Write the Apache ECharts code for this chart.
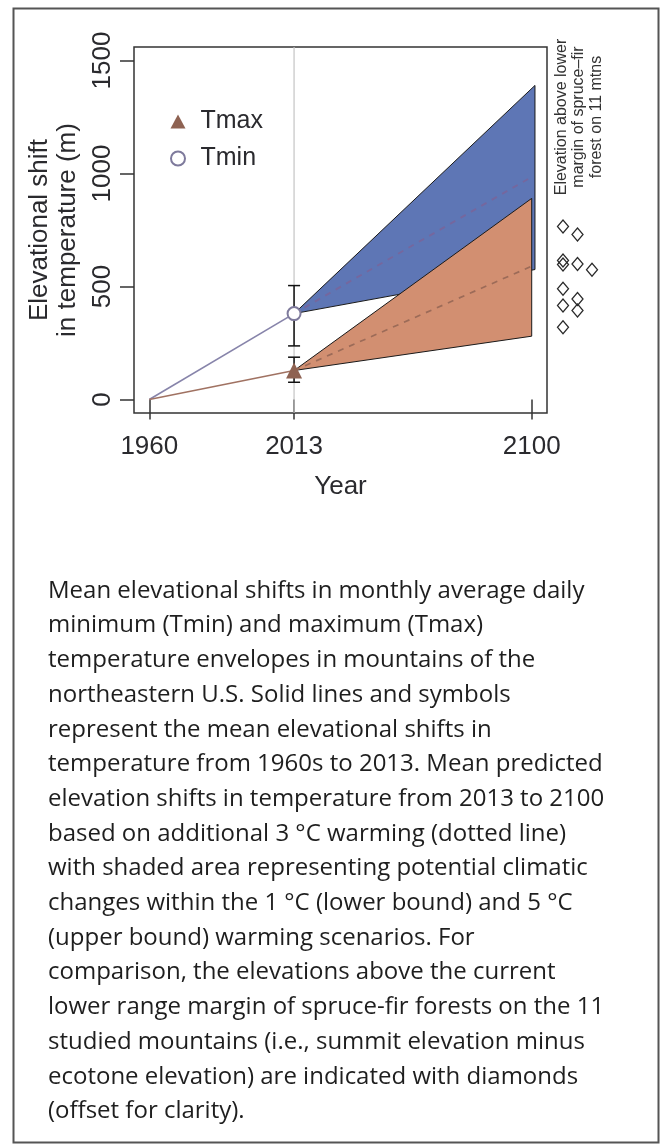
<!DOCTYPE html>
<html><head><meta charset="utf-8">
<script src="https://cdn.jsdelivr.net/npm/echarts@6.0.0/dist/echarts.min.js"></script>
<style>html,body{margin:0;padding:0;background:#fff}#c{width:660px;height:1148px}</style>
</head><body><div id="c"></div>
<script>
// ---- data ----
const xTicks = [1960, 2013, 2100];
const yTicks = [0, 500, 1000, 1500];
const refYear = 2013;
const tminObs = [[1960, 0], [2013, 380]];
const tmaxObs = [[1960, 0], [2013, 128]];
const tminErr = [[2013, 237, 504]];
const tmaxErr = [[2013, 76, 187]];
const tminPred = [[2013, 380], [2100, 985]];
const tmaxPred = [[2013, 128], [2100, 590]];
const tminEnvelope = [[2013, 380], [2101.2, 1390], [2101.2, 575]];
const tmaxEnvelope = [[2013, 128], [2100, 890], [2100, 280]];
const spruceFirMargin = [765, 730, 615, 597, 600, 574, 490, 445, 416, 394, 320];
const marginColumn = [1, 2, 1, 1, 2, 3, 1, 2, 1, 2, 1];
const captionLines = [
  'Mean elevational shifts in monthly average daily',
  'minimum (Tmin) and maximum (Tmax)',
  'temperature envelopes in mountains of the',
  'northeastern U.S. Solid lines and symbols',
  'represent the mean elevational shifts in',
  'temperature from 1960s to 2013. Mean predicted',
  'elevation shifts in temperature from 2013 to 2100',
  'based on additional 3 °C warming (dotted line)',
  'with shaded area representing potential climatic',
  'changes within the 1 °C (lower bound) and 5 °C',
  '(upper bound) warming scenarios. For',
  'comparison, the elevations above the current',
  'lower range margin of spruce-fir forests on the 11',
  'studied mountains (i.e., summit elevation minus',
  'ecotone elevation) are indicated with diamonds',
  '(offset for clarity).'
];

// ---- chart ----
const FONT = 'Liberation Sans';
const TXT = '#2a2a2e';
const chart = echarts.init(document.getElementById('c'), null, {renderer: 'canvas'});

function polygonSeries(points, fill, z) {
  return {
    type: 'custom', xAxisIndex: 0, yAxisIndex: 0, silent: true, z: z,
    data: [points[0]],
    renderItem: (params, api) => ({
      type: 'polygon',
      shape: {points: points.map(p => api.coord(p))},
      style: {fill: fill, stroke: '#1a1a1a', lineWidth: 1}
    })
  };
}
function errSeries(data, z) {
  return {
    type: 'custom', xAxisIndex: 0, yAxisIndex: 0, silent: true, z: z,
    data: data, encode: {x: 0, y: [1, 2]},
    renderItem: (params, api) => {
      const lo = api.coord([api.value(0), api.value(1)]);
      const hi = api.coord([api.value(0), api.value(2)]);
      const w = 6;
      const st = {stroke: '#111', lineWidth: 1.5};
      return {type: 'group', children: [
        {type: 'line', shape: {x1: lo[0], y1: lo[1], x2: hi[0], y2: hi[1]}, style: st},
        {type: 'line', shape: {x1: lo[0] - w, y1: lo[1], x2: lo[0] + w, y2: lo[1]}, style: st},
        {type: 'line', shape: {x1: hi[0] - w, y1: hi[1], x2: hi[0] + w, y2: hi[1]}, style: st}
      ]};
    }
  };
}
const plain = v => String(v);

const option = {
  animation: false,
  backgroundColor: '#fff',
  grid: [
    {left: 134, top: 47, width: 413, height: 366, show: true, borderColor: '#333', borderWidth: 1.5, backgroundColor: 'transparent'},
    {left: 548.5, top: 47, width: 58, height: 366}
  ],
  xAxis: [{
    type: 'value', gridIndex: 0, min: 1954.4, max: 2105.6,
    splitLine: {show: false}, axisLine: {show: false},
    axisTick: {show: true, customValues: xTicks, length: 20, lineStyle: {color: '#333', width: 1.5}},
    axisLabel: {customValues: xTicks, formatter: plain, fontSize: 26, fontFamily: FONT, color: TXT, margin: 21},
    name: 'Year', nameLocation: 'middle', nameGap: 61,
    nameTextStyle: {fontSize: 26, fontFamily: FONT, color: TXT}
  }, {
    type: 'value', gridIndex: 1, min: 0, max: 4, show: false
  }],
  yAxis: [{
    type: 'value', gridIndex: 0, min: -60, max: 1560,
    splitLine: {show: false}, axisLine: {show: false},
    axisTick: {show: true, customValues: yTicks, length: 14, lineStyle: {color: '#333', width: 1.5}},
    axisLabel: {customValues: yTicks, formatter: plain, rotate: 90, fontSize: 26, fontFamily: FONT, color: TXT, margin: 18},
    name: 'Elevational shift\nin temperature (m)', nameLocation: 'middle', nameRotate: 90, nameGap: 52,
    nameTextStyle: {fontSize: 26, lineHeight: 28, fontFamily: FONT, color: TXT}
  }, {
    type: 'value', gridIndex: 1, min: -60, max: 1560, show: false
  }],
  legend: {
    data: ['Tmax', 'Tmin'], orient: 'vertical', left: 165, top: 104,
    itemWidth: 15, itemHeight: 14, itemGap: 12, selectedMode: false,
    textStyle: {fontSize: 25, fontFamily: FONT, color: TXT, padding: [0, 0, 0, 10]}
  },
  series: [
    {
      type: 'custom', xAxisIndex: 0, yAxisIndex: 0, silent: true, z: 1,
      data: [[refYear]],
      renderItem: (params, api) => {
        const a = api.coord([api.value(0), -60]);
        const b = api.coord([api.value(0), 1560]);
        return {type: 'line', shape: {x1: a[0], y1: a[1], x2: b[0], y2: b[1]}, style: {stroke: '#c4c4c4', lineWidth: 1.2}};
      }
    },
    {type: 'line', name: 'Tmin line', data: tminObs, symbol: 'none', z: 3, lineStyle: {color: '#8784aa', width: 1.6}},
    {type: 'line', name: 'Tmax line', data: tmaxObs, symbol: 'none', z: 3, lineStyle: {color: '#a07262', width: 1.6}},
    polygonSeries(tminEnvelope, '#5e76b5', 4),
    polygonSeries(tmaxEnvelope, '#d28f71', 5),
    {type: 'line', name: 'Tmin pred', data: tminPred, symbol: 'none', z: 6, lineStyle: {color: '#75679e', width: 1.9, type: [6, 6]}},
    {type: 'line', name: 'Tmax pred', data: tmaxPred, symbol: 'none', z: 6, lineStyle: {color: '#9c6b58', width: 1.7, type: [6, 6]}},
    errSeries(tminErr, 7),
    errSeries(tmaxErr, 7),
    {type: 'scatter', name: 'Tmax', data: [tmaxObs[1]], symbol: 'triangle', symbolSize: 16, z: 8,
      itemStyle: {color: '#8e6252', opacity: 1}},
    {type: 'scatter', name: 'Tmin', data: [tminObs[1]], symbol: 'emptyCircle', symbolSize: 13, z: 8,
      itemStyle: {color: '#7e7a9c', borderWidth: 1.6, opacity: 1}},
    {type: 'scatter', name: 'margin', xAxisIndex: 1, yAxisIndex: 1, z: 8,
      data: spruceFirMargin.map((v, i) => [marginColumn[i], v]),
      symbol: 'diamond', symbolSize: [11, 13],
      itemStyle: {color: 'transparent', borderColor: '#2a2a2a', borderWidth: 1.3, opacity: 1}}
  ],
  graphic: [
    {type: 'rect', left: 11, top: 6, z: 0, shape: {width: 645, height: 1134},
      style: {fill: 'none', stroke: '#555', lineWidth: 2}},
    {type: 'text', x: 579, y: 117, rotation: Math.PI / 2, z: 10,
      style: {text: 'Elevation above lower\nmargin of spruce\u2013fir\nforest on 11 mtns',
        font: '16px "Liberation Sans"', fill: '#333', align: 'center', verticalAlign: 'middle', lineHeight: 17.5}},
    {type: 'text', x: 48, y: 573.6, z: 10,
      style: {text: captionLines.join('\n'), font: '24px "Open Sans"', fill: '#1e1e1e', lineHeight: 34.7,
        align: 'left', verticalAlign: 'top'}}
  ]
};
chart.setOption(option);
</script>
</body></html>
